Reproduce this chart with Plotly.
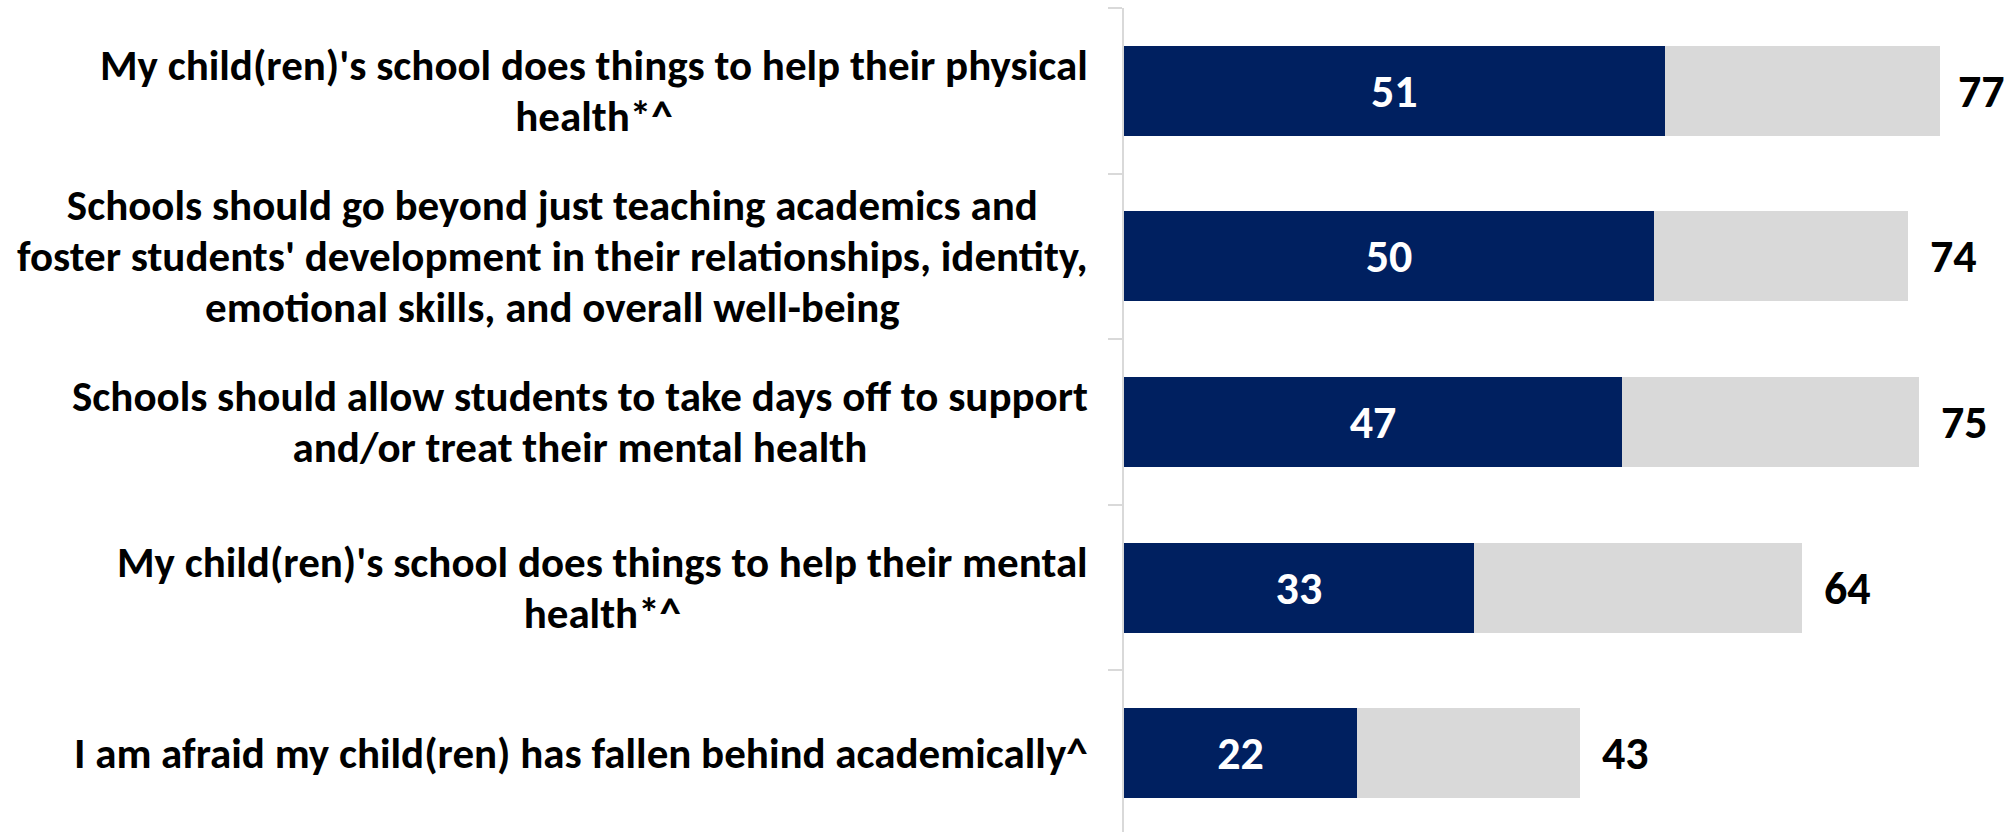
import plotly.graph_objects as go

# Survey statements (top to bottom) and percentages
statements = [
    "My child(ren)'s school does things to help their physical<br>health*^",
    "Schools should go beyond just teaching academics and<br>foster students' development in their relationships, identity,<br>emotional skills, and overall well-being",
    "Schools should allow students to take days off to support<br>and/or treat their mental health",
    "My child(ren)'s school does things to help their mental<br>health*^",
    "I am afraid my child(ren) has fallen behind academically^",
]
strongly_agree = [51, 50, 47, 33, 22]
total_agree = [77, 74, 75, 64, 43]

NAVY = "#002060"
GRAY = "#D9D9D9"
FONT = "Carlito, Lato, 'Open Sans', sans-serif"

W, H = 2013, 832
LEFT = 1124          # plot area starts here (axis line)
PX_PER_UNIT = 10.6   # horizontal scale of the value axis
VAL_SIZE = 46
CAT_SIZE = 43        # glyph size of the statement labels
CAT_LINE = 39.2      # base size that sets the line pitch (1.3 x this)

cats = list(range(len(statements)))
somewhat = [t - s for t, s in zip(total_agree, strongly_agree)]

fig = go.Figure()
fig.add_trace(go.Bar(
    y=cats, x=strongly_agree, orientation="h",
    marker=dict(color=NAVY, line=dict(width=0)),
    text=[str(v) for v in strongly_agree],
    textposition="inside", insidetextanchor="middle",
    textfont=dict(family=FONT, size=VAL_SIZE, color="white", weight="bold"),
    hoverinfo="skip",
))
fig.add_trace(go.Bar(
    y=cats, x=somewhat, orientation="h",
    marker=dict(color=GRAY, line=dict(width=0)),
    hoverinfo="skip",
))

# Total labels just past the end of each bar, kept inside the canvas
for c, t in zip(cats, total_agree):
    end_px = LEFT + t * PX_PER_UNIT
    label_w = 0.58 * VAL_SIZE * len(str(t))
    shift = min(20, W - 4 - label_w - end_px)
    fig.add_annotation(
        x=t, y=c, xref="x", yref="y", text=str(t),
        xanchor="left", yanchor="middle", xshift=shift, showarrow=False,
        font=dict(family=FONT, size=VAL_SIZE, color="black", weight="bold"),
    )

# Statement labels: centred lines, block right-aligned left of the axis
for c, s in zip(cats, statements):
    lines = s.split("<br>")
    text = "<br>".join(
        f'<span style="font-size:{CAT_SIZE}px">{ln}</span>' for ln in lines
    )
    fig.add_annotation(
        x=0, y=c, xref="paper", yref="y", text=text,
        xanchor="right", yanchor="middle", align="center", xshift=-34,
        showarrow=False,
        font=dict(family=FONT, size=CAT_LINE, color="black", weight="bold"),
    )

plot_h = H - 8
band = 165.6
fig.update_layout(
    width=W, height=H,
    margin=dict(l=LEFT, r=0, t=8, b=0),
    barmode="stack", bargap=0.457,
    showlegend=False,
    plot_bgcolor="white", paper_bgcolor="white",
    xaxis=dict(range=[0, (W - LEFT) / PX_PER_UNIT], visible=False),
    yaxis=dict(
        type="category",
        range=[-0.5 + plot_h / band, -0.5],
        showline=True, linecolor=GRAY, linewidth=1.5,
        ticks="outside", tickson="boundaries", ticklen=14, tickcolor=GRAY,
        tickwidth=1.5,
        showticklabels=False, showgrid=False, zeroline=False,
    ),
)

fig.write_html("out.html")
